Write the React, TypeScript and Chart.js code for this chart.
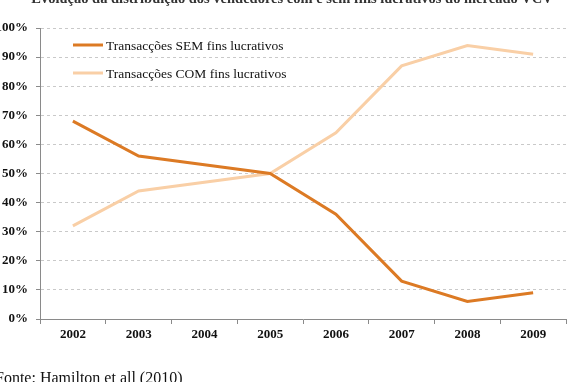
import React, { useEffect, useRef } from "react";
import { Chart, registerables } from "chart.js";

Chart.register(...registerables);

const years = ["2002", "2003", "2004", "2005", "2006", "2007", "2008", "2009"];
const semFins = [68, 56, 53, 50, 36, 13, 6, 9];
const comFins = [32, 44, 47, 50, 64, 87, 94, 91];
const seriesNames = ["Transacções SEM fins lucrativos", "Transacções COM fins lucrativos"];
const seriesColors = ["#dc7a24", "#f9cfa6"];
const titleText = "Evolução da distribuição dos vendedores com e sem fins lucrativos do mercado VCV";
const sourceText = "Fonte: Hamilton et all (2010)";

const SERIF = "'Liberation Serif', 'Times New Roman', serif";

// Title (clipped at the top edge), inner legend and source note
const decorations = {
  id: "decorations",
  afterDraw(chart: any) {
    const ctx = chart.ctx;
    const area = chart.chartArea;
    ctx.save();
    ctx.fillStyle = "#333";
    ctx.font = `bold 14.5px ${SERIF}`;
    ctx.textAlign = "center";
    ctx.textBaseline = "alphabetic";
    ctx.fillText(titleText, 292, 3);

    ctx.fillStyle = "#111";
    ctx.font = `16px ${SERIF}`;
    ctx.textAlign = "left";
    ctx.fillText(sourceText, -5, 383);

    ctx.font = `13.5px ${SERIF}`;
    ctx.textBaseline = "middle";
    chart.data.datasets.forEach((ds: any, i: number) => {
      const y = area.top + 17 + i * 28;
      const x0 = area.left + 33;
      ctx.strokeStyle = ds.borderColor;
      ctx.lineWidth = 3;
      ctx.beginPath();
      ctx.moveTo(x0, y);
      ctx.lineTo(x0 + 30, y);
      ctx.stroke();
      ctx.fillStyle = "#111";
      ctx.fillText(ds.label, x0 + 33, y + 1);
    });
    ctx.restore();
  },
};

export default function App() {
  const ref = useRef<HTMLCanvasElement>(null);

  useEffect(() => {
    if (!ref.current) return;
    const chart = new Chart(ref.current, {
      type: "line",
      data: {
        labels: years,
        datasets: [
          {
            label: seriesNames[0],
            data: semFins,
            borderColor: seriesColors[0],
            backgroundColor: seriesColors[0],
            borderWidth: 3,
            pointRadius: 0,
            tension: 0,
          },
          {
            label: seriesNames[1],
            data: comFins,
            borderColor: seriesColors[1],
            backgroundColor: seriesColors[1],
            borderWidth: 3,
            pointRadius: 0,
            tension: 0,
          },
        ],
      },
      options: {
        animation: false,
        responsive: false,
        devicePixelRatio: 1,
        layout: { padding: { top: 28, right: 4, bottom: 0, left: 0 } },
        plugins: {
          legend: { display: false },
          tooltip: { enabled: false },
        },
        scales: {
          x: {
            offset: true,
            grid: {
              offset: true,
              drawOnChartArea: false,
              drawTicks: true,
              tickLength: 5,
              tickColor: "#8a8a8a",
            },
            border: { display: true, color: "#8a8a8a", width: 1 },
            ticks: {
              padding: 3,
              color: "#111",
              font: { family: SERIF, size: 13, weight: "bold" },
              maxRotation: 0,
            },
            afterFit(scale: any) {
              scale.height = 63;
            },
          },
          y: {
            min: 0,
            max: 100,
            ticks: {
              stepSize: 10,
              padding: 8,
              color: "#111",
              font: { family: SERIF, size: 13, weight: "bold" },
              callback: (v: any) => `${v}%`,
            },
            grid: {
              color: (c: any) => (c.tick && c.tick.value === 0 ? "rgba(0,0,0,0)" : "#c9c9c9"),
              drawTicks: true,
              tickLength: 4,
              tickColor: "#8a8a8a",
              tickBorderDash: [],
            },
            border: { display: true, color: "#8a8a8a", width: 1, dash: [3, 3] },
            afterFit(scale: any) {
              scale.width = 40;
            },
          },
        },
      },
      plugins: [decorations],
    });
    return () => chart.destroy();
  }, []);

  return (
    <div style={{ position: "fixed", left: 0, top: 0, width: 570, height: 382, background: "#fff" }}>
      <canvas ref={ref} width={570} height={382} style={{ display: "block" }} />
    </div>
  );
}
